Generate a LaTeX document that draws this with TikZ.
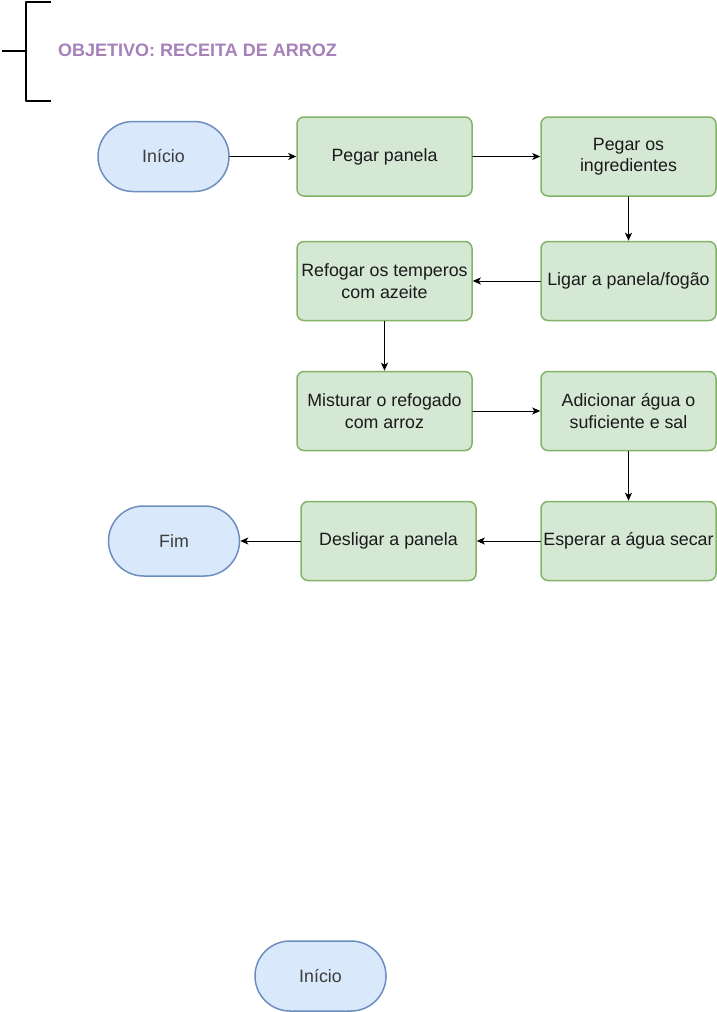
\documentclass[tikz,border=0pt]{standalone}
\usepackage{fontspec}
\setmainfont{Liberation Sans}
\usepackage{xcolor}
\usetikzlibrary{arrows.meta}
\definecolor{verdefill}{HTML}{D5E8D4}
\definecolor{verdeline}{HTML}{82B366}
\definecolor{azulfill}{HTML}{DAE8FC}
\definecolor{azulline}{HTML}{6C8EBF}
\definecolor{roxo}{HTML}{A680B8}
\definecolor{textoescuro}{HTML}{1A1A1A}
\newcommand{\fonteflux}{\fontsize{17.8}{21.5}\selectfont}

\begin{document}
\begin{tikzpicture}[line cap=round,line join=round,>={Stealth[length=8pt,width=7pt,inset=2pt]},x=1pt,y=-1pt,
    passo/.style={draw=verdeline,fill=verdefill,line width=1.5pt,rounded corners=7pt,minimum width=175pt,minimum height=79pt,inner sep=0pt,align=center,font=\fonteflux,text=textoescuro},
    terminal/.style={draw=azulline,fill=azulfill,line width=1.5pt,rounded corners=35pt,minimum width=131pt,minimum height=70pt,inner sep=0pt,font=\fonteflux,text=textoescuro!85!white},
    seta/.style={->,line width=1pt,black}]
\useasboundingbox (0,0) rectangle (717,1012);
\draw [line width=2pt,line cap=butt] (51,2) -- (26,2) -- (26,101) -- (51,101);
\draw [line width=2pt,line cap=butt] (2,51) -- (26,51);
\node [anchor=west,inner sep=0pt,text=roxo,font=\fontsize{18}{21.5}\selectfont\bfseries] (objetivo) at (58,50) {OBJETIVO: RECEITA DE ARROZ};
\node [terminal] (inicio) at (163.5,156.5) {Início};
\node [passo] (panela) at (384.5,156.5) {Pegar panela};
\node [passo] (ingredientes) at (628.5,156.5) {Pegar os\\ingredientes};
\node [passo] (ligar) at (628.5,281) {Ligar a panela/fogão};
\node [passo] (refogar) at (384.5,281) {Refogar os temperos\\com azeite};
\node [passo] (misturar) at (384.5,411) {Misturar o refogado\\com arroz};
\node [passo] (adicionar) at (628.5,411) {Adicionar água o\\suficiente e sal};
\node [passo] (esperar) at (628.5,541) {Esperar a água secar};
\node [passo] (desligar) at (388.5,541) {Desligar a panela};
\node [terminal] (fim) at (174,541) {Fim};
\node [terminal] (inicio2) at (320.5,976) {Início};
\draw [seta] (inicio) -- (panela);
\draw [seta] (panela) -- (ingredientes);
\draw [seta] (ingredientes) -- (ligar);
\draw [seta] (ligar) -- (refogar);
\draw [seta] (refogar) -- (misturar);
\draw [seta] (misturar) -- (adicionar);
\draw [seta] (adicionar) -- (esperar);
\draw [seta] (esperar) -- (desligar);
\draw [seta] (desligar) -- (fim);
\end{tikzpicture}
\end{document}
